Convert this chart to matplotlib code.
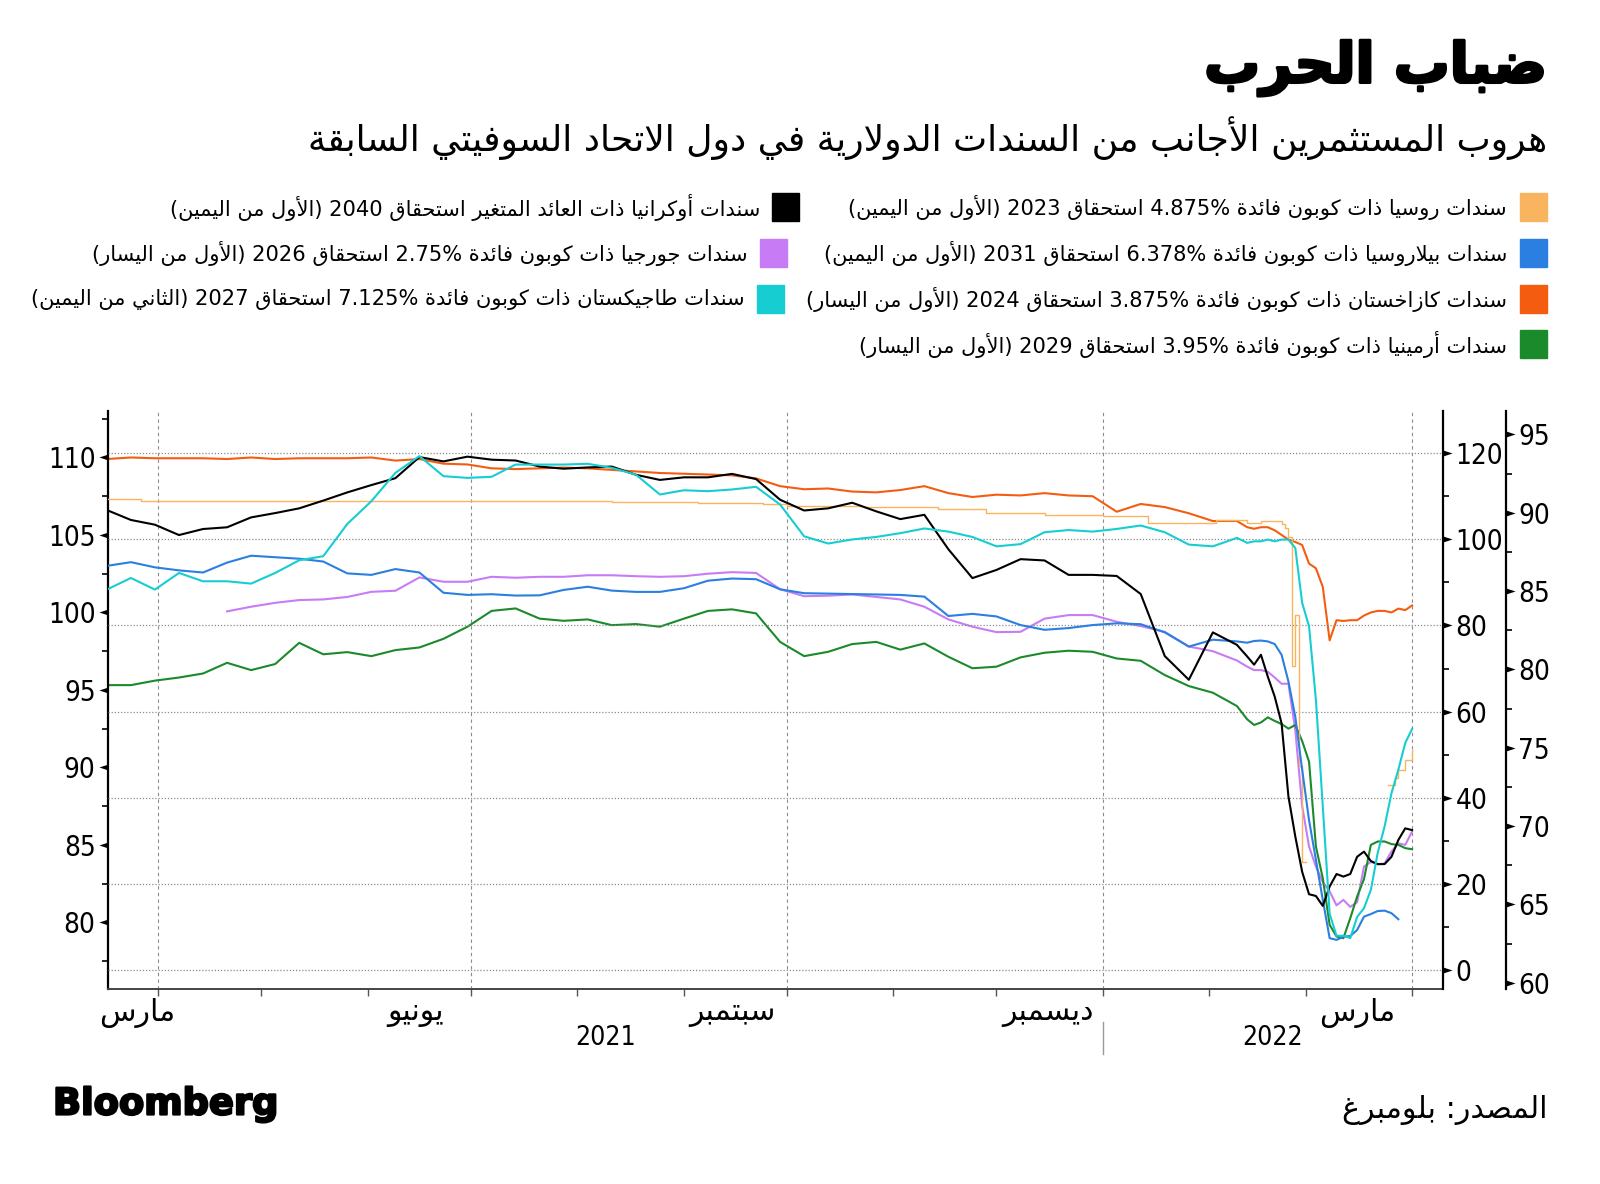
import re

import matplotlib

matplotlib.use("Agg")

import matplotlib.dates as mdates
import matplotlib.patheffects as pe
import matplotlib.pyplot as plt
import numpy as np
import pandas as pd
from matplotlib.patches import Rectangle
from matplotlib.ticker import FixedLocator, NullFormatter

plt.rcParams["font.family"] = ["DejaVu Sans"]

nan = np.nan

# ---------------------------------------------------------------- data
# weekly readings up to 9 Feb 2022, then every second day through the sell-off
DATES = pd.date_range("2021-03-17", "2022-02-09", freq="7D").append(
    pd.date_range("2022-02-12", "2022-04-01", freq="2D")
)

# left axis
KAZAKHSTAN = [
    109.9, 110.0, 109.95, 109.95, 109.95, 109.9, 110.0, 109.9, 109.95, 109.95,
    109.95, 110.0, 109.8, 109.9, 109.6, 109.55, 109.3, 109.25, 109.3, 109.35,
    109.3, 109.2, 109.1, 109.0, 108.95, 108.9, 108.85, 108.65, 108.15, 107.95,
    108.0, 107.8, 107.75, 107.9, 108.15, 107.7, 107.45, 107.6, 107.55, 107.7,
    107.55, 107.5, 106.5, 107.0, 106.8, 106.4, 105.9, 105.9,
    105.5, 105.4, 105.5, 105.5, 105.3, 105.0, 104.7, 104.55, 104.35, 103.15,
    102.85, 101.65, 98.2, 99.5, 99.45, 99.5, 99.5, 99.8, 100.0, 100.1,
    100.1, 100.0, 100.25, 100.15, 100.45,
]
GEORGIA = [
    nan, nan, nan, nan, nan, 100.07, 100.37, 100.62, 100.8, 100.84,
    101.0, 101.33, 101.4, 102.26, 101.98, 101.98, 102.3, 102.24, 102.3, 102.3,
    102.4, 102.4, 102.34, 102.3, 102.34, 102.5, 102.6, 102.55, 101.5, 101.05,
    101.08, 101.16, 101.0, 100.84, 100.37, 99.55, 99.08, 98.73, 98.75, 99.6,
    99.83, 99.83, 99.4, 99.12, 98.75, 97.8, 97.5, 96.9,
    96.5, 96.28, 96.28, 96.17, 95.8, 95.4, 95.4, 92.4, 87.5, 84.9,
    83.6, 82.6, 82.0, 81.1, 81.45, 81.0, 81.3, 83.6, 83.9, 83.75,
    83.8, 84.57, 85.1, 85.0, 85.86,
]
ARMENIA = [
    95.31, 95.31, 95.6, 95.8, 96.06, 96.75, 96.28, 96.67, 98.04, 97.3,
    97.44, 97.18, 97.57, 97.74, 98.3, 99.08, 100.1, 100.26, 99.6, 99.46,
    99.55, 99.18, 99.25, 99.08, 99.6, 100.1, 100.2, 99.94, 98.1, 97.18,
    97.46, 97.96, 98.1, 97.6, 98.0, 97.14, 96.4, 96.5, 97.1, 97.4,
    97.53, 97.46, 97.03, 96.88, 95.96, 95.25, 94.82, 93.96,
    93.1, 92.74, 92.9, 93.23, 93.0, 92.8, 92.5, 92.74, 91.7, 90.37,
    84.9, 82.85, 79.84, 79.09, 78.98, 80.27, 81.67, 82.79, 85.0, 85.22,
    85.22, 85.05, 85.0, 84.79, 84.72,
]

# first right axis
UKRAINE = [
    106.8, 104.5, 103.4, 101.0, 102.4, 102.8, 105.1, 106.1, 107.2, 109.0,
    110.9, 112.6, 114.2, 119.1, 118.1, 119.2, 118.5, 118.3, 116.9, 116.4,
    116.7, 116.9, 115.0, 113.8, 114.4, 114.4, 115.2, 114.0, 109.2, 106.7,
    107.2, 108.5, 106.5, 104.7, 105.7, 97.7, 91.0, 92.9, 95.4, 95.1,
    91.75, 91.75, 91.5, 87.3, 72.9, 67.4, 78.4, 75.5,
    72.8, 70.9, 73.2, 68.1, 63.5, 57.3, 40.3, 31.0, 22.8, 17.6,
    17.2, 14.9, 19.4, 22.3, 21.7, 22.3, 26.3, 27.5, 25.3, 24.6,
    24.6, 26.3, 30.2, 32.9, 32.5,
]
BELARUS = [
    93.84, 94.7, 93.5, 92.8, 92.3, 94.6, 96.2, 95.85, 95.5, 94.85,
    92.1, 91.75, 93.1, 92.3, 87.6, 87.1, 87.26, 86.95, 87.0, 88.26,
    89.0, 88.1, 87.8, 87.8, 88.65, 90.4, 90.9, 90.75, 88.4, 87.5,
    87.4, 87.3, 87.2, 87.1, 86.7, 82.2, 82.7, 82.1, 80.1, 79.0,
    79.4, 80.1, 80.5, 80.3, 78.4, 75.1, 76.7, 76.3,
    76.0, 76.4, 76.5, 76.3, 75.7, 73.2, 67.0, 58.8, 46.5, 34.8,
    25.6, 16.3, 7.4, 7.0, 7.75, 7.9, 9.3, 12.4, 13.0, 13.7,
    13.8, 13.2, 11.8, nan, nan,
]
# Russia trades in steps and stops quoting for most of March
RUSSIA_DATES = pd.to_datetime([
    "2021-03-17", "2021-03-27", "2021-04-07", "2021-04-17", "2021-08-11",
    "2021-09-05", "2021-09-24", "2021-10-01", "2021-10-23", "2021-11-14",
    "2021-11-28", "2021-12-15", "2022-01-01", "2022-01-14", "2022-02-03",
    "2022-02-12", "2022-02-16", "2022-02-22", "2022-02-23", "2022-02-24",
    "2022-02-25", "2022-02-26", "2022-02-27", "2022-02-28", "2022-03-01",
    "2022-03-25", "2022-03-27", "2022-03-28", "2022-03-30", "2022-04-01",
])
RUSSIA = [
    109.4, 109.0, 108.8, 108.9, 108.7, 108.4, 108.2, 107.8, 107.6, 107.1,
    106.2, 105.7, 105.4, 103.9, 104.4, 103.9, 104.2, 103.5, 102.7, 100.6,
    70.5, 82.5, 47.4, 25.2, nan, 43.0, 44.6, 46.4, 48.8, 51.1,
]

# second right axis
TAJIKISTAN = [
    85.1, 85.84, 85.1, 86.16, 85.63, 85.63, 85.48, 86.16, 86.97, 87.23,
    89.29, 90.74, 92.55, 93.62, 92.34, 92.23, 92.3, 93.08, 93.08, 93.08,
    93.13, 92.87, 92.44, 91.17, 91.44, 91.38, 91.49, 91.66, 90.53, 88.5,
    88.04, 88.3, 88.46, 88.7, 89.0, 88.8, 88.46, 87.86, 88.0, 88.76,
    88.9, 88.8, 88.97, 89.19, 88.76, 87.97, 87.86, 88.4,
    88.08, 88.18, 88.18, 88.29, 88.18, 88.29, 88.29, 87.75, 84.25, 82.75,
    78.07, 71.26, 64.4, 63.0, 63.0, 62.85, 64.2, 64.76, 65.93, 68.3,
    69.98, 72.1, 73.6, 75.3, 76.2,
]

COLORS = {
    "russia": "#F8B45E",
    "belarus": "#2A7FE0",
    "kazakhstan": "#F45D10",
    "armenia": "#1B8A2B",
    "ukraine": "#000000",
    "georgia": "#C77CF5",
    "tajikistan": "#16CDD2",
}
LABELS = {
    "russia": "سندات روسيا ذات كوبون فائدة 4.875% استحقاق 2023 (الأول من اليمين)",
    "belarus": "سندات بيلاروسيا ذات كوبون فائدة 6.378% استحقاق 2031 (الأول من اليمين)",
    "kazakhstan": "سندات كازاخستان ذات كوبون فائدة 3.875% استحقاق 2024 (الأول من اليسار)",
    "armenia": "سندات أرمينيا ذات كوبون فائدة 3.95% استحقاق 2029 (الأول من اليسار)",
    "ukraine": "سندات أوكرانيا ذات العائد المتغير استحقاق 2040 (الأول من اليمين)",
    "georgia": "سندات جورجيا ذات كوبون فائدة 2.75% استحقاق 2026 (الأول من اليسار)",
    "tajikistan": "سندات طاجيكستان ذات كوبون فائدة 7.125% استحقاق 2027 (الثاني من اليمين)",
}
TITLE = "ضباب الحرب"
SUBTITLE = "هروب المستثمرين الأجانب من السندات الدولارية في دول الاتحاد السوفيتي السابقة"
SOURCE = "المصدر: بلومبرغ"
MONTHS = ["مارس", "يونيو", "سبتمبر", "ديسمبر", "مارس"]

# ---------------------------------------------------------------- arabic text
# matplotlib has no shaping / bidi, so pick presentation forms by hand
DUAL = {
    "ئ": 0xFE89, "ب": 0xFE8F, "ت": 0xFE95, "ث": 0xFE99, "ج": 0xFE9D, "ح": 0xFEA1,
    "خ": 0xFEA5, "س": 0xFEB1, "ش": 0xFEB5, "ص": 0xFEB9, "ض": 0xFEBD, "ط": 0xFEC1,
    "ظ": 0xFEC5, "ع": 0xFEC9, "غ": 0xFECD, "ف": 0xFED1, "ق": 0xFED5, "ك": 0xFED9,
    "ل": 0xFEDD, "م": 0xFEE1, "ن": 0xFEE5, "ه": 0xFEE9, "ي": 0xFEF1,
}
RIGHT_ONLY = {
    "آ": 0xFE81, "أ": 0xFE83, "ؤ": 0xFE85, "إ": 0xFE87, "ا": 0xFE8D, "ة": 0xFE93,
    "د": 0xFEA9, "ذ": 0xFEAB, "ر": 0xFEAD, "ز": 0xFEAF, "و": 0xFEED, "ى": 0xFEEF,
}
LAM_ALEF = {"آ": 0xFEF5, "أ": 0xFEF7, "إ": 0xFEF9, "ا": 0xFEFB}
LTR_RUN = re.compile(r"[0-9A-Za-z][0-9A-Za-z.,%]*")
MIRROR = {"(": ")", ")": "("}


def shape(text):
    out = []
    joined = False
    i = 0
    while i < len(text):
        ch = text[i]
        nxt = text[i + 1] if i + 1 < len(text) else ""
        if ch == "ل" and nxt in LAM_ALEF:
            out.append(chr(LAM_ALEF[nxt] + joined))
            joined = False
            i += 2
            continue
        if ch in DUAL:
            to_next = nxt in DUAL or nxt in RIGHT_ONLY
            if joined and to_next:
                out.append(chr(DUAL[ch] + 3))
            elif joined:
                out.append(chr(DUAL[ch] + 1))
            elif to_next:
                out.append(chr(DUAL[ch] + 2))
            else:
                out.append(chr(DUAL[ch]))
            joined = to_next
        elif ch in RIGHT_ONLY:
            out.append(chr(RIGHT_ONLY[ch] + joined))
            joined = False
        else:
            out.append(ch)
            joined = False
        i += 1
    return "".join(out)


def rtl(text):
    shaped = shape(text)
    tokens = []
    pos = 0
    for m in LTR_RUN.finditer(shaped):
        tokens.extend(MIRROR.get(c, c) for c in shaped[pos:m.start()])
        tokens.append(m.group())
        pos = m.end()
    tokens.extend(MIRROR.get(c, c) for c in shaped[pos:])
    return "".join(reversed(tokens))


# ---------------------------------------------------------------- figure
W, H = 1600, 1184
fig = plt.figure(figsize=(W / 100, H / 100), dpi=100)


def fx(px):
    return px / W


def fy(py):
    return 1 - py / H


AX_L, AX_R, AX_T, AX_B = 108, 1443, 411, 989
ax = fig.add_axes([fx(AX_L), fy(AX_B), fx(AX_R - AX_L), (AX_B - AX_T) / H])
axr = ax.twinx()
axr2 = ax.twinx()
axr2.spines["right"].set_position(("axes", 1 + 62.6 / (AX_R - AX_L)))

for a in (ax, axr, axr2):
    a.spines["top"].set_visible(False)
ax.spines["right"].set_visible(False)
for a in (axr, axr2):
    a.spines["left"].set_visible(False)
    a.spines["bottom"].set_visible(False)
    a.spines["right"].set_linewidth(1.6)
ax.spines["left"].set_linewidth(1.6)
ax.spines["bottom"].set_linewidth(1.4)
ax.spines["bottom"].set_color("#444444")

LW = 1.5
ax.plot(DATES, KAZAKHSTAN, color=COLORS["kazakhstan"], lw=LW)
ax.plot(DATES, GEORGIA, color=COLORS["georgia"], lw=LW)
ax.plot(DATES, ARMENIA, color=COLORS["armenia"], lw=LW)
axr.step(RUSSIA_DATES, RUSSIA, where="post", color=COLORS["russia"], lw=1.0)
axr.plot(DATES, BELARUS, color=COLORS["belarus"], lw=LW)
axr.plot(DATES, UKRAINE, color=COLORS["ukraine"], lw=LW)
axr2.plot(DATES, TAJIKISTAN, color=COLORS["tajikistan"], lw=LW)

ax.set_xlim(pd.Timestamp("2021-03-17 08:00"), pd.Timestamp("2022-04-10"))
ax.set_ylim(75.7, 113.0)
axr.set_ylim(-4.4, 129.8)
axr2.set_ylim(59.6, 96.5)

ax.yaxis.set_major_locator(FixedLocator(np.arange(80, 111, 5)))
ax.yaxis.set_minor_locator(FixedLocator(np.arange(77.5, 113, 5)))
axr.yaxis.set_major_locator(FixedLocator(np.arange(0, 121, 20)))
axr.yaxis.set_minor_locator(FixedLocator(np.arange(10, 121, 20)))
axr2.yaxis.set_major_locator(FixedLocator(np.arange(60, 96, 5)))
axr2.yaxis.set_minor_locator(FixedLocator(np.arange(62.5, 96, 5)))

ax.xaxis.set_major_locator(mdates.MonthLocator(bymonth=[1, 4, 7, 10]))
ax.xaxis.set_minor_locator(mdates.MonthLocator())
ax.xaxis.set_major_formatter(NullFormatter())
ax.tick_params(axis="x", which="both", length=5, width=1.0, color="#555555")

for a in (ax, axr, axr2):
    a.tick_params(axis="y", which="major", length=7, width=1, pad=2, labelsize=20)
    a.tick_params(axis="y", which="minor", length=4, width=1.2)
    for lbl in a.get_yticklabels():
        lbl.set_fontstretch("condensed")

ax.grid(axis="x", which="major", linestyle=(0, (3, 3)), color="#8c8c8c", lw=0.8)
axr.grid(axis="y", which="major", linestyle=(0, (1, 1.5)), color="#8c8c8c", lw=0.9)

# triangular major ticks
TRI_LEFT = [(0, -0.33), (-1, 0), (0, 0.33), (0, -0.33)]
TRI_RIGHT = [(0, -0.33), (1, 0), (0, 0.33), (0, -0.33)]
for a, verts in ((ax, TRI_LEFT), (axr, TRI_RIGHT), (axr2, TRI_RIGHT)):
    for t in a.yaxis.get_major_ticks():
        line = t.tick2line if verts is TRI_RIGHT else t.tick1line
        line.set_marker(verts)
        line.set_markersize(13)
        line.set_markerfacecolor("black")
        line.set_markeredgewidth(0)

# month labels sit under the middle of the month
xt = ax.get_xaxis_transform()
MONTH_SIZE = 21.5
ax.text(-9 / (AX_R - AX_L), -0.0415, rtl(MONTHS[0]), transform=ax.transAxes,
        ha="left", va="center", fontsize=MONTH_SIZE)
for name, day in zip(MONTHS[1:], ["2021-06-15", "2021-09-15", "2021-12-16", "2022-03-16"]):
    ax.text(pd.Timestamp(day), -0.0415, rtl(name), transform=xt,
            ha="center", va="center", fontsize=MONTH_SIZE)

x0, x1 = [mdates.num2date(v) for v in ax.get_xlim()]
year_edge = pd.Timestamp("2022-01-01")
mid21 = mdates.num2date((mdates.date2num(x0) + mdates.date2num(year_edge)) / 2)
mid22 = mdates.num2date((mdates.date2num(year_edge) + mdates.date2num(x1)) / 2)
ax.text(mid21, -0.085, "2021", transform=xt, ha="center", va="center",
        fontsize=19, fontstretch="condensed")
ax.text(mid22, -0.085, "2022", transform=xt, ha="center", va="center",
        fontsize=19, fontstretch="condensed")
ax.plot([year_edge, year_edge], [-0.057, -0.113], transform=xt, color="#999999",
        lw=1, clip_on=False)

# ---------------------------------------------------------------- headings
heavy = [pe.withStroke(linewidth=2.2, foreground="black")]
fig.text(fx(1547), fy(68), rtl(TITLE), ha="right", va="center",
         fontsize=40, fontweight="bold", path_effects=heavy)
fig.text(fx(1547), fy(138), rtl(SUBTITLE), ha="right", va="center", fontsize=26)

# legend: right column squares at the page edge, left column follows the text
ROWS = [207, 253, 299, 344]
LEGEND_LAYOUT = [
    ("russia", 0, 1520, 1507),
    ("belarus", 1, 1520, 1507),
    ("kazakhstan", 2, 1520, 1507),
    ("armenia", 3, 1520, 1507),
    ("ukraine", 0, 772, 760),
    ("georgia", 1, 760, 748),
    ("tajikistan", 2, 757, 745),
]
for key, row, sq_left, text_right in LEGEND_LAYOUT:
    yc = ROWS[row]
    fig.patches.append(Rectangle((fx(sq_left), fy(yc + 14)), fx(27), 28 / H,
                                 transform=fig.transFigure, color=COLORS[key]))
    fig.text(fx(text_right), fy(yc), rtl(LABELS[key]), ha="right", va="center",
             fontsize=15.1)

fig.text(fx(53), fy(1104), "Bloomberg", ha="left", va="center", fontsize=26.5,
         fontweight="bold", path_effects=[pe.withStroke(linewidth=1.6, foreground="black")])
fig.text(fx(1547), fy(1110), rtl(SOURCE), ha="right", va="center", fontsize=21.7)

fig.savefig("out.png", dpi=100)
